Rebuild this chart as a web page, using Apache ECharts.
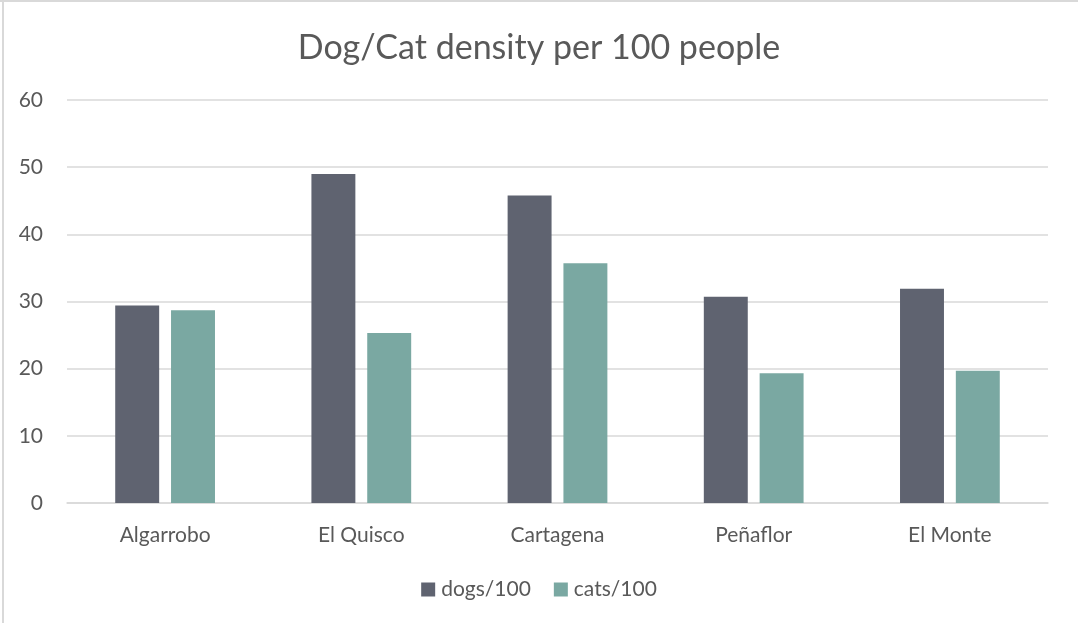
<!DOCTYPE html>
<html>
<head>
<meta charset="utf-8">
<script src="https://cdn.jsdelivr.net/npm/echarts@6/dist/echarts.min.js"></script>
<style>
  html, body { margin: 0; padding: 0; background: #fff; }
  #chart { width: 1078px; height: 623px; }
</style>
</head>
<body>
<div id="chart"></div>
<script>
// Pet density by municipality (per 100 residents)
const categories = ['Algarrobo', 'El Quisco', 'Cartagena', 'Peñaflor', 'El Monte'];
const dogsPer100 = [29.4, 49.0, 45.8, 30.7, 31.9];
const catsPer100 = [28.7, 25.3, 35.7, 19.3, 19.7];
const yTicks = [0, 10, 20, 30, 40, 50, 60];

const textColor = '#595959';
const gridColor = '#D9D9D9';
const fontFamily = 'Lato, "Open Sans", sans-serif';

const chart = echarts.init(document.getElementById('chart'), null, { renderer: 'canvas' });

chart.setOption({
  backgroundColor: '#ffffff',
  animation: false,
  textStyle: { fontFamily: fontFamily, color: textColor },
  title: {
    text: 'Dog/Cat density per 100 people',
    left: 'center',
    top: 26,
    textStyle: { fontFamily: fontFamily, fontSize: 34, fontWeight: 'normal', color: textColor }
  },
  legend: {
    top: 574,
    left: 'center',
    itemWidth: 14,
    itemHeight: 14,
    itemGap: 23,
    icon: 'rect',
    textStyle: { fontFamily: fontFamily, fontSize: 21, color: textColor, padding: [0, 0, 0, 1] },
    data: ['dogs/100', 'cats/100']
  },
  grid: { left: 67, right: 30, top: 100, bottom: 120 },
  xAxis: {
    type: 'category',
    data: categories,
    axisLine: { lineStyle: { color: gridColor, width: 1.5 } },
    axisTick: { show: false },
    axisLabel: { fontFamily: fontFamily, fontSize: 21, color: textColor, margin: 22 }
  },
  yAxis: {
    type: 'value',
    min: yTicks[0],
    max: yTicks[yTicks.length - 1],
    interval: yTicks[1] - yTicks[0],
    axisLine: { show: false },
    axisTick: { show: false },
    splitLine: { lineStyle: { color: gridColor, width: 1.5 } },
    axisLabel: { fontFamily: fontFamily, fontSize: 21, color: textColor, margin: 24 }
  },
  series: [
    {
      name: 'dogs/100',
      type: 'bar',
      data: dogsPer100,
      barWidth: '22.4%',
      barGap: '27%',
      itemStyle: { color: '#5F6370' }
    },
    {
      name: 'cats/100',
      type: 'bar',
      data: catsPer100,
      barWidth: '22.4%',
      itemStyle: { color: '#7AA8A2' }
    }
  ],
  graphic: [
    { type: 'line', shape: { x1: 0, y1: 1, x2: 1078, y2: 1 }, style: { stroke: gridColor, lineWidth: 2 } },
    { type: 'line', shape: { x1: 3, y1: 0, x2: 3, y2: 623 }, style: { stroke: gridColor, lineWidth: 2 } }
  ]
});
</script>
</body>
</html>
